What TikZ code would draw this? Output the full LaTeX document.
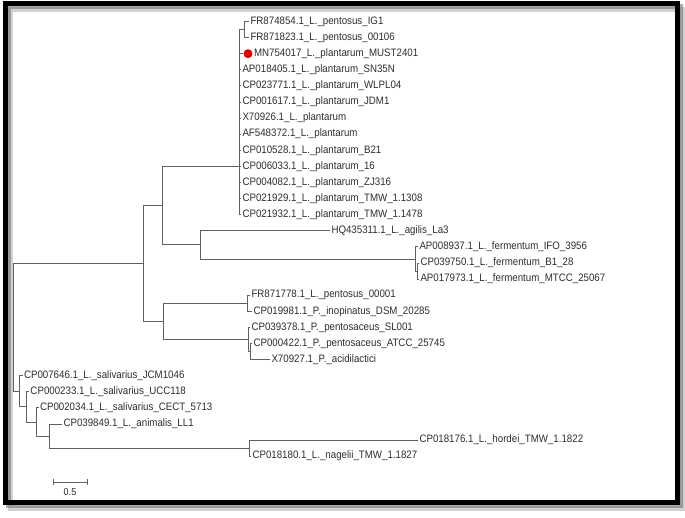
\documentclass[tikz,border=0pt]{standalone}
\usepackage{fontspec}
\setmainfont[FakeStretch=0.9]{Liberation Sans}
\usepackage{tikz}
\tikzset{
    leafnode/.style = {
        anchor=west,
        inner sep=1.5pt,
        outer sep=0pt,
        font=\fontsize{10.8}{12}\selectfont,
        text=black!82
    },
    branch/.style = {
        draw=black!62,
        line width=0.9pt
    },
    reddot/.style = {
        circle,
        fill=red!90!black,
        minimum size=9pt,
        inner sep=0pt
    }
}

\begin{document}
\begin{tikzpicture}[x=1pt,y=-1pt]
    \useasboundingbox (0,0) rectangle (685,518);
    \fill[white] (0,0) rectangle (685,518);
    % frame with shadow
    \draw[black!35,line width=5pt,opacity=0.5] (10.5,10) rectangle (682.5,508);
    \draw[black!55,line width=5pt,opacity=0.6] (8,7) rectangle (680,505);
    \draw[black,line width=5pt] (5.5,4) rectangle (677,502);

    % internal nodes
    \coordinate (pp)  at (244,29.6);
    \coordinate (pl)  at (239,166);
    \coordinate (fe2) at (417,271.05);
    \coordinate (fe)  at (415.5,259);
    \coordinate (agfe) at (200,244.9);
    \coordinate (A)   at (162,205.5);
    \coordinate (pe)  at (247,303.25);
    \coordinate (pd2) at (250,351.55);
    \coordinate (pd)  at (248,339.5);
    \coordinate (C)   at (163,321.4);
    \coordinate (B)   at (143,263.45);
    \coordinate (S5)  at (249,448.15);
    \coordinate (S4)  at (49,436.1);
    \coordinate (S3)  at (36,422);
    \coordinate (S2)  at (26,406.9);
    \coordinate (S1)  at (19,391.3);
    \coordinate (R)   at (13,327.4);

    % leaves
    \node[leafnode] (fr874854) at (249,21.5) {FR874854.1\_L.\_pentosus\_IG1};
    \node[leafnode] (fr871823) at (249,37.6) {FR871823.1\_L.\_pentosus\_00106};
    \node[reddot] (must) at (248,53.7) {};
    \node[leafnode] (mn754017) at (252.5,53.7) {MN754017\_L.\_plantarum\_MUST2401};
    \node[leafnode] (ap018405) at (241,69.8) {AP018405.1\_L.\_plantarum\_SN35N};
    \node[leafnode] (cp023771) at (241,85.9) {CP023771.1\_L.\_plantarum\_WLPL04};
    \node[leafnode] (cp001617) at (241,102.0) {CP001617.1\_L.\_plantarum\_JDM1};
    \node[leafnode] (x70926) at (241,118.1) {X70926.1\_L.\_plantarum};
    \node[leafnode] (af548372) at (241,134.2) {AF548372.1\_L.\_plantarum};
    \node[leafnode] (cp010528) at (241,150.3) {CP010528.1\_L.\_plantarum\_B21};
    \node[leafnode] (cp006033) at (241,166.4) {CP006033.1\_L.\_plantarum\_16};
    \node[leafnode] (cp004082) at (241,182.5) {CP004082.1\_L.\_plantarum\_ZJ316};
    \node[leafnode] (cp021929) at (241,198.6) {CP021929.1\_L.\_plantarum\_TMW\_1.1308};
    \node[leafnode] (cp021932) at (241,214.7) {CP021932.1\_L.\_plantarum\_TMW\_1.1478};
    \node[leafnode] (hq435311) at (330,230.8) {HQ435311.1\_L.\_agilis\_La3};
    \node[leafnode] (ap008937) at (418,246.9) {AP008937.1\_L.\_fermentum\_IFO\_3956};
    \node[leafnode] (cp039750) at (419,263.0) {CP039750.1\_L.\_fermentum\_B1\_28};
    \node[leafnode] (ap017973) at (419,279.1) {AP017973.1\_L.\_fermentum\_MTCC\_25067};
    \node[leafnode] (fr871778) at (250,295.2) {FR871778.1\_L.\_pentosus\_00001};
    \node[leafnode] (cp019981) at (252,311.3) {CP019981.1\_P.\_inopinatus\_DSM\_20285};
    \node[leafnode] (cp039378) at (250,327.4) {CP039378.1\_P.\_pentosaceus\_SL001};
    \node[leafnode] (cp000422) at (252,343.5) {CP000422.1\_P.\_pentosaceus\_ATCC\_25745};
    \node[leafnode] (x70927) at (270,359.6) {X70927.1\_P.\_acidilactici};
    \node[leafnode] (cp007646) at (22.5,375.7) {CP007646.1\_L.\_salivarius\_JCM1046};
    \node[leafnode] (cp000233) at (29,391.8) {CP000233.1\_L.\_salivarius\_UCC118};
    \node[leafnode] (cp002034) at (38.5,407.9) {CP002034.1\_L.\_salivarius\_CECT\_5713};
    \node[leafnode] (cp039849) at (62,424.0) {CP039849.1\_L.\_animalis\_LL1};
    \node[leafnode] (cp018176) at (418,440.1) {CP018176.1\_L.\_hordei\_TMW\_1.1822};
    \node[leafnode] (cp018180) at (251,456.2) {CP018180.1\_L.\_nagelii\_TMW\_1.1827};

    % branches
    \draw[branch] (pp) |- (fr874854.west);
    \draw[branch] (pp) |- (fr871823.west);
    \draw[branch] (pl) |- (pp);
    \draw[branch] (pl) |- (must.west);
    \draw[branch] (pl) |- (ap018405.west);
    \draw[branch] (pl) |- (cp023771.west);
    \draw[branch] (pl) |- (cp001617.west);
    \draw[branch] (pl) |- (x70926.west);
    \draw[branch] (pl) |- (af548372.west);
    \draw[branch] (pl) |- (cp010528.west);
    \draw[branch] (pl) |- (cp006033.west);
    \draw[branch] (pl) |- (cp004082.west);
    \draw[branch] (pl) |- (cp021929.west);
    \draw[branch] (pl) |- (cp021932.west);
    \draw[branch] (fe2) |- (cp039750.west);
    \draw[branch] (fe2) |- (ap017973.west);
    \draw[branch] (fe) |- (ap008937.west);
    \draw[branch] (fe) |- (fe2);
    \draw[branch] (agfe) |- (hq435311.west);
    \draw[branch] (agfe) |- (fe);
    \draw[branch] (A) |- (pl);
    \draw[branch] (A) |- (agfe);
    \draw[branch] (pe) |- (fr871778.west);
    \draw[branch] (pe) |- (cp019981.west);
    \draw[branch] (pd2) |- (cp000422.west);
    \draw[branch] (pd2) |- (x70927.west);
    \draw[branch] (pd) |- (cp039378.west);
    \draw[branch] (pd) |- (pd2);
    \draw[branch] (C) |- (pe);
    \draw[branch] (C) |- (pd);
    \draw[branch] (B) |- (A);
    \draw[branch] (B) |- (C);
    \draw[branch] (S5) |- (cp018176.west);
    \draw[branch] (S5) |- (cp018180.west);
    \draw[branch] (S4) |- (cp039849.west);
    \draw[branch] (S4) |- (S5);
    \draw[branch] (S3) |- (cp002034.west);
    \draw[branch] (S3) |- (S4);
    \draw[branch] (S2) |- (cp000233.west);
    \draw[branch] (S2) |- (S3);
    \draw[branch] (S1) |- (cp007646.west);
    \draw[branch] (S1) |- (S2);
    \draw[branch] (R) |- (B);
    \draw[branch] (R) |- (S1);

    % scale bar
    \coordinate (sbl) at (53,482);
    \coordinate (sbr) at (87,482);
    \draw[branch] (sbl) -- (sbr);
    \draw[branch] ([yshift=-3pt]sbl) -- ([yshift=3pt]sbl);
    \draw[branch] ([yshift=-3pt]sbr) -- ([yshift=3pt]sbr);
    \node[font=\fontsize{10}{11}\selectfont,text=black!82,inner sep=1pt] (sblabel) at (70,492) {0.5};
\end{tikzpicture}
\end{document}
